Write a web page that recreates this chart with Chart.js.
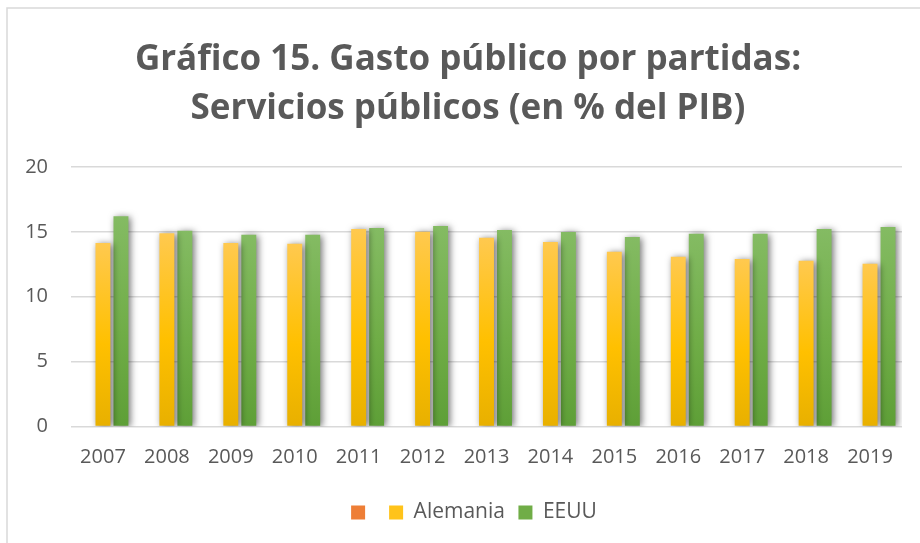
<!DOCTYPE html>
<html>
<head>
<meta charset="utf-8">
<script src="https://cdn.jsdelivr.net/npm/chart.js@4.4.1/dist/chart.umd.min.js"></script>
<style>
  html, body { margin: 0; padding: 0; background: #ffffff; }
  #wrap { position: relative; width: 920px; height: 543px; }
</style>
</head>
<body>
<div id="wrap"><canvas id="c" width="920" height="543"></canvas></div>
<script>
// ---- data ----
const years = ["2007","2008","2009","2010","2011","2012","2013","2014","2015","2016","2017","2018","2019"];
const blankSeries = [null,null,null,null,null,null,null,null,null,null,null,null,null];
const alemania = [14.15, 14.9, 14.15, 14.08, 15.23, 15.02, 14.54, 14.23, 13.46, 13.08, 12.92, 12.77, 12.54];
const eeuu = [16.2, 15.08, 14.77, 14.77, 15.3, 15.46, 15.15, 15.0, 14.6, 14.85, 14.85, 15.23, 15.38];
const seriesNames = ["", "Alemania", "EEUU"];
const yTicks = [0, 5, 10, 15, 20];
const titleLines = ["Gráfico 15. Gasto público por partidas:", "Servicios públicos (en % del PIB)"];

const textColor = "#595959";
const FONT = "'Open Sans', 'DejaVu Sans', sans-serif";

function barGradient(stops) {
  return function (ctx) {
    const chart = ctx.chart;
    if (!chart.chartArea || ctx.type !== 'data') return stops[1];
    const v = ctx.parsed ? ctx.parsed.y : null;
    if (v === null || v === undefined) return stops[1];
    const yScale = chart.scales.y;
    const top = yScale.getPixelForValue(v);
    const base = yScale.getPixelForValue(0);
    const g = chart.ctx.createLinearGradient(0, top, 0, base);
    g.addColorStop(0, stops[0]);
    g.addColorStop(0.55, stops[1]);
    g.addColorStop(1, stops[2]);
    return g;
  };
}

const orangeStops = ["#F4945A", "#ED7D31", "#DF6A1B"];
const yellowStops = ["#FFC94F", "#FFC000", "#E8B000"];
const greenStops = ["#84BB63", "#70AD47", "#5E9F37"];
const legendSolid = ["#EE7E36", "#FFC31A", "#70AD47"];

const borderPlugin = {
  id: 'frame',
  beforeDraw(chart) {
    const c = chart.ctx;
    c.save();
    c.fillStyle = '#ffffff';
    c.fillRect(0, 0, chart.width, chart.height);
    c.strokeStyle = '#d9d9d9';
    c.lineWidth = 1.5;
    c.beginPath();
    c.moveTo(7, chart.height);
    c.lineTo(7, 8);
    c.lineTo(chart.width, 8);
    c.stroke();
    c.restore();
  }
};

// Center title and legend on the frame rather than on the padded layout box
const centerPlugin = {
  id: 'centerBoxes',
  afterLayout(chart) {
    if (chart.titleBlock) {
      chart.titleBlock.left += 34;
      chart.titleBlock.width = chart.titleBlock.right - chart.titleBlock.left;
    }
    if (chart.legend) {
      chart.legend.left += 46;
      chart.legend.width = chart.legend.right - chart.legend.left;
    }
  }
};

const shadowPlugin = {
  id: 'barShadow',
  beforeDatasetsDraw(chart) {
    const c = chart.ctx;
    c.save();
    c.shadowColor = 'rgba(0,0,0,0.55)';
    c.shadowBlur = 7;
    c.shadowOffsetX = 2;
    c.shadowOffsetY = 1;
  },
  afterDatasetsDraw(chart) {
    chart.ctx.restore();
  }
};

new Chart(document.getElementById('c'), {
  type: 'bar',
  data: {
    labels: years,
    datasets: [
      { label: seriesNames[0], data: blankSeries, backgroundColor: barGradient(orangeStops) },
      { label: seriesNames[1], data: alemania, backgroundColor: barGradient(yellowStops) },
      { label: seriesNames[2], data: eeuu, backgroundColor: barGradient(greenStops) }
    ]
  },
  options: {
    responsive: false,
    animation: false,
    devicePixelRatio: 1,
    categoryPercentage: 0.844,
    barPercentage: 0.83,
    layout: { padding: { top: 28, bottom: 10, left: 0, right: 18 } },
    plugins: {
      title: {
        display: true,
        text: titleLines,
        color: textColor,
        font: { family: FONT, size: 35, weight: 'bold', lineHeight: 1.386 },
        padding: { top: 8, bottom: 34 }
      },
      legend: {
        position: 'bottom',
        labels: {
          color: textColor,
          font: { family: FONT, size: 21 },
          boxWidth: 14,
          boxHeight: 14,
          padding: 13.5,
          generateLabels(chart) {
            const items = Chart.defaults.plugins.legend.labels.generateLabels(chart);
            items.forEach((it, i) => {
              it.fillStyle = legendSolid[i];
              it.strokeStyle = legendSolid[i];
              it.lineWidth = 0;
            });
            return items;
          }
        }
      },
      tooltip: { enabled: false }
    },
    scales: {
      x: {
        grid: { display: false, drawTicks: false },
        border: { display: false },
        ticks: { color: textColor, font: { family: FONT, size: 20 }, padding: 19, maxRotation: 0 }
      },
      y: {
        min: 0,
        max: 20,
        afterFit(scale) { scale.width = 71; },
        afterBuildTicks(scale) { scale.ticks = yTicks.map(v => ({ value: v })); },
        grid: { color: '#d9d9d9', lineWidth: 1.5, drawTicks: false },
        border: { display: false },
        ticks: { color: textColor, font: { family: FONT, size: 20 }, padding: 23 }
      }
    }
  },
  plugins: [borderPlugin, centerPlugin, shadowPlugin]
});
</script>
</body>
</html>
